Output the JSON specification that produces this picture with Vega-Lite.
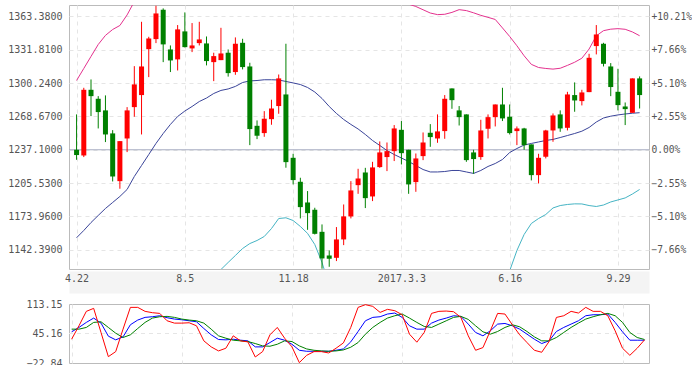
{
  "$schema": "https://vega.github.io/schema/vega-lite/v6.json",
  "padding": {"left": 7, "top": 4, "right": 0, "bottom": 0},
  "bounds": "flush",
  "spacing": 35,
  "config": {
    "view": {"stroke": "#bbbbbb", "strokeWidth": 1},
    "axis": {"labelFont": "DejaVu Sans Mono", "labelFontSize": 10, "labelColor": "#555555", "ticks": false, "tickSize": 0, "domain": false, "gridColor": "#e5e5e5", "gridDash": [4, 4], "labelFlush": false, "labelOverlap": false},
    "line": {"strokeWidth": 1}
  },
  "datasets": {
    "k": [
      {"d": "2016-04-22", "o": 1237.1, "h": 1270.6, "l": 1227.6, "c": 1232.1, "up": 1302.7, "mid": 1153.8, "lo": 1005, "K": 49.0, "D": 55.2, "J": 32.0},
      {"d": "2016-04-29", "o": 1231.7, "h": 1295.8, "l": 1230.2, "c": 1293.9, "up": 1314.1, "mid": 1160.7, "lo": 1007, "K": 59.1, "D": 55.2, "J": 62.9},
      {"d": "2016-05-06", "o": 1293.9, "h": 1303.7, "l": 1269.0, "c": 1287.9, "up": 1325.5, "mid": 1168.2, "lo": 1011, "K": 70.7, "D": 59.1, "J": 96.2},
      {"d": "2016-05-13", "o": 1285.4, "h": 1287.9, "l": 1257.3, "c": 1272.8, "up": 1336.8, "mid": 1174.9, "lo": 1013, "K": 80.7, "D": 70.7, "J": 103.1},
      {"d": "2016-05-20", "o": 1274.4, "h": 1288.6, "l": 1244.4, "c": 1251.6, "up": 1345.4, "mid": 1181.5, "lo": 1018, "K": 69.1, "D": 72.2, "J": 47.5},
      {"d": "2016-05-27", "o": 1252.6, "h": 1255.7, "l": 1207.1, "c": 1211.8, "up": 1351.0, "mid": 1187.2, "lo": 1023, "K": 39.0, "D": 59.1, "J": -8.2},
      {"d": "2016-06-03", "o": 1207.4, "h": 1245.3, "l": 1200.2, "c": 1245.3, "up": 1354.8, "mid": 1192.9, "lo": 1031, "K": 30.5, "D": 45.9, "J": 3.4},
      {"d": "2016-06-10", "o": 1247.8, "h": 1277.5, "l": 1234.9, "c": 1274.4, "up": 1364.8, "mid": 1199.5, "lo": 1034, "K": 37.4, "D": 35.9, "J": 55.2},
      {"d": "2016-06-17", "o": 1277.5, "h": 1316.3, "l": 1268.4, "c": 1299.0, "up": 1377.5, "mid": 1211.8, "lo": 1046, "K": 65.3, "D": 42.1, "J": 105.4},
      {"d": "2016-06-24", "o": 1288.9, "h": 1358.3, "l": 1251.6, "c": 1316.0, "up": 1390, "mid": 1222.2, "lo": 1054, "K": 76.1, "D": 56.7, "J": 105.4},
      {"d": "2016-07-01", "o": 1332.4, "h": 1344.1, "l": 1305.9, "c": 1342.5, "up": 1400, "mid": 1232.6, "lo": 1065, "K": 82.3, "D": 70.7, "J": 96.2},
      {"d": "2016-07-08", "o": 1341.9, "h": 1373.5, "l": 1338.1, "c": 1366.2, "up": 1410, "mid": 1243.1, "lo": 1076, "K": 83.8, "D": 80.7, "J": 93.1},
      {"d": "2016-07-15", "o": 1369.7, "h": 1371.0, "l": 1320.1, "c": 1336.9, "up": 1418, "mid": 1252.5, "lo": 1087, "K": 86.1, "D": 83.8, "J": 91.5},
      {"d": "2016-07-22", "o": 1332.1, "h": 1335.9, "l": 1310.7, "c": 1321.7, "up": 1425, "mid": 1261.1, "lo": 1097, "K": 81.5, "D": 84.6, "J": 74.5},
      {"d": "2016-07-29", "o": 1322.7, "h": 1355.2, "l": 1312.2, "c": 1351.1, "up": 1430, "mid": 1268.6, "lo": 1105, "K": 78.4, "D": 82.3, "J": 69.1},
      {"d": "2016-08-05", "o": 1349.2, "h": 1367.2, "l": 1334.0, "c": 1334.3, "up": 1433, "mid": 1273.8, "lo": 1110, "K": 76.8, "D": 78.4, "J": 69.1},
      {"d": "2016-08-12", "o": 1333.1, "h": 1357.1, "l": 1329.6, "c": 1335.9, "up": 1436, "mid": 1278.1, "lo": 1113, "K": 74.5, "D": 76.1, "J": 69.9},
      {"d": "2016-08-19", "o": 1338.1, "h": 1358.3, "l": 1335.9, "c": 1341.6, "up": 1440, "mid": 1282.8, "lo": 1115, "K": 72.2, "D": 74.5, "J": 62.9},
      {"d": "2016-08-26", "o": 1337.8, "h": 1344.4, "l": 1317.0, "c": 1321.1, "up": 1445, "mid": 1286.1, "lo": 1116, "K": 56.7, "D": 69.1, "J": 28.2},
      {"d": "2016-09-02", "o": 1320.1, "h": 1329.0, "l": 1302.1, "c": 1325.8, "up": 1452, "mid": 1290.4, "lo": 1117, "K": 42.1, "D": 55.2, "J": 14.3},
      {"d": "2016-09-09", "o": 1322.0, "h": 1352.6, "l": 1322.0, "c": 1328.3, "up": 1462, "mid": 1293.3, "lo": 1123.7, "K": 31.3, "D": 39.8, "J": 5.0},
      {"d": "2016-09-16", "o": 1329.0, "h": 1332.1, "l": 1306.4, "c": 1309.7, "up": 1458, "mid": 1294.7, "lo": 1130.4, "K": 30.5, "D": 34.3, "J": 11.2},
      {"d": "2016-09-23", "o": 1310.7, "h": 1343.5, "l": 1308.1, "c": 1337.5, "up": 1456, "mid": 1297.1, "lo": 1137.0, "K": 32.0, "D": 29.7, "J": 39.8},
      {"d": "2016-09-30", "o": 1338.4, "h": 1342.2, "l": 1313.2, "c": 1315.4, "up": 1458, "mid": 1300.8, "lo": 1143.6, "K": 29.7, "D": 28.2, "J": 28.2},
      {"d": "2016-10-07", "o": 1316.0, "h": 1319.5, "l": 1241.5, "c": 1256.7, "up": 1456, "mid": 1302.3, "lo": 1148.3, "K": 28.2, "D": 26.6, "J": 25.8},
      {"d": "2016-10-14", "o": 1259.8, "h": 1264.9, "l": 1247.2, "c": 1250.4, "up": 1454, "mid": 1302.7, "lo": 1151.2, "K": 14.3, "D": 22.0, "J": -9.0},
      {"d": "2016-10-21", "o": 1252.9, "h": 1273.7, "l": 1249.4, "c": 1266.5, "up": 1452, "mid": 1303.4, "lo": 1155.0, "K": 14.3, "D": 16.6, "J": 3.4},
      {"d": "2016-10-28", "o": 1266.1, "h": 1284.5, "l": 1260.8, "c": 1276.2, "up": 1444, "mid": 1303.4, "lo": 1162.5, "K": 24.3, "D": 15.8, "J": 42.1},
      {"d": "2016-11-04", "o": 1278.5, "h": 1308.4, "l": 1271.2, "c": 1304.7, "up": 1434, "mid": 1303.2, "lo": 1172.0, "K": 34.3, "D": 20.4, "J": 59.1},
      {"d": "2016-11-11", "o": 1289.5, "h": 1337.5, "l": 1220.1, "c": 1225.4, "up": 1431, "mid": 1301.8, "lo": 1172.7, "K": 29.7, "D": 28.2, "J": 34.3},
      {"d": "2016-11-18", "o": 1229.5, "h": 1233.3, "l": 1204.3, "c": 1208.4, "up": 1431, "mid": 1300.4, "lo": 1170.1, "K": 20.4, "D": 26.6, "J": 14.3},
      {"d": "2016-11-25", "o": 1206.8, "h": 1210.6, "l": 1172.1, "c": 1182.8, "up": 1433, "mid": 1298.9, "lo": 1164.5, "K": 6.5, "D": 16.6, "J": -22.0},
      {"d": "2016-12-02", "o": 1187.2, "h": 1198.0, "l": 1161.3, "c": 1177.1, "up": 1434, "mid": 1296.1, "lo": 1157.9, "K": 4.2, "D": 9.6, "J": -5.1},
      {"d": "2016-12-09", "o": 1180.3, "h": 1182.2, "l": 1156.9, "c": 1157.5, "up": 1435, "mid": 1291.8, "lo": 1147.4, "K": 4.2, "D": 6.5, "J": 3.4},
      {"d": "2016-12-16", "o": 1159.4, "h": 1166.4, "l": 1124.5, "c": 1134.2, "up": 1439, "mid": 1285.7, "lo": 1130.4, "K": 4.2, "D": 5.0, "J": 3.4},
      {"d": "2016-12-23", "o": 1137.0, "h": 1141.8, "l": 1126.3, "c": 1133.9, "up": 1445, "mid": 1278.1, "lo": 1108.6, "K": 4.2, "D": 4.2, "J": 0.3},
      {"d": "2016-12-30", "o": 1134.8, "h": 1163.9, "l": 1131.7, "c": 1152.2, "up": 1440, "mid": 1271.5, "lo": 1100, "K": 6.5, "D": 5.0, "J": 11.2},
      {"d": "2017-01-06", "o": 1152.2, "h": 1185.3, "l": 1146.8, "c": 1174.0, "up": 1430, "mid": 1265.8, "lo": 1098, "K": 9.6, "D": 7.3, "J": 23.5},
      {"d": "2017-01-13", "o": 1174.0, "h": 1207.4, "l": 1172.1, "c": 1198.6, "up": 1420, "mid": 1261.1, "lo": 1098, "K": 25.8, "D": 13.5, "J": 59.1},
      {"d": "2017-01-20", "o": 1203.6, "h": 1219.1, "l": 1195.4, "c": 1209.9, "up": 1410, "mid": 1256.8, "lo": 1100, "K": 49.8, "D": 24.3, "J": 105.4},
      {"d": "2017-01-27", "o": 1215.6, "h": 1220.0, "l": 1181.9, "c": 1191.3, "up": 1402, "mid": 1251.6, "lo": 1098, "K": 74.5, "D": 43.6, "J": 111.6},
      {"d": "2017-02-03", "o": 1192.9, "h": 1225.7, "l": 1188.5, "c": 1220.4, "up": 1395, "mid": 1245.9, "lo": 1094, "K": 82.3, "D": 59.1, "J": 107.7},
      {"d": "2017-02-10", "o": 1220.7, "h": 1245.0, "l": 1220.0, "c": 1234.6, "up": 1390, "mid": 1241.2, "lo": 1090, "K": 83.8, "D": 70.7, "J": 93.8},
      {"d": "2017-02-17", "o": 1230.2, "h": 1244.0, "l": 1216.9, "c": 1235.8, "up": 1386, "mid": 1236.4, "lo": 1086, "K": 90.0, "D": 80.7, "J": 100.8},
      {"d": "2017-02-24", "o": 1235.8, "h": 1260.5, "l": 1226.4, "c": 1257.3, "up": 1382, "mid": 1232.6, "lo": 1082, "K": 92.3, "D": 86.1, "J": 97.7},
      {"d": "2017-03-03", "o": 1256.0, "h": 1264.3, "l": 1223.2, "c": 1233.9, "up": 1378, "mid": 1229.3, "lo": 1079, "K": 82.3, "D": 90.0, "J": 88.4},
      {"d": "2017-03-10", "o": 1237.1, "h": 1237.1, "l": 1195.4, "c": 1204.3, "up": 1375.0, "mid": 1226.0, "lo": 1077, "K": 62.9, "D": 80.7, "J": 43.6},
      {"d": "2017-03-17", "o": 1206.5, "h": 1233.6, "l": 1197.3, "c": 1228.9, "up": 1372.8, "mid": 1222.2, "lo": 1072, "K": 55.2, "D": 70.7, "J": 25.1},
      {"d": "2017-03-24", "o": 1231.1, "h": 1253.5, "l": 1227.3, "c": 1244.0, "up": 1369.7, "mid": 1218.4, "lo": 1068, "K": 55.2, "D": 61.4, "J": 47.5},
      {"d": "2017-03-31", "o": 1253.2, "h": 1261.4, "l": 1239.9, "c": 1249.1, "up": 1366.6, "mid": 1216.1, "lo": 1066, "K": 69.1, "D": 59.1, "J": 91.5},
      {"d": "2017-04-07", "o": 1247.8, "h": 1270.6, "l": 1243.7, "c": 1254.5, "up": 1365.1, "mid": 1216.1, "lo": 1067, "K": 76.1, "D": 66.8, "J": 96.2},
      {"d": "2017-04-14", "o": 1254.8, "h": 1288.9, "l": 1247.5, "c": 1285.4, "up": 1365.4, "mid": 1216.5, "lo": 1068, "K": 80.7, "D": 74.5, "J": 96.9},
      {"d": "2017-04-21", "o": 1295.2, "h": 1295.2, "l": 1275.9, "c": 1284.1, "up": 1367.2, "mid": 1217.5, "lo": 1068, "K": 86.1, "D": 82.3, "J": 95.4},
      {"d": "2017-04-28", "o": 1274.4, "h": 1278.5, "l": 1260.1, "c": 1268.0, "up": 1369.8, "mid": 1217.5, "lo": 1065, "K": 84.6, "D": 84.6, "J": 82.2},
      {"d": "2017-05-05", "o": 1270.6, "h": 1270.6, "l": 1225.7, "c": 1227.3, "up": 1368.9, "mid": 1216.1, "lo": 1063, "K": 66.8, "D": 77.6, "J": 39.8},
      {"d": "2017-05-12", "o": 1234.6, "h": 1237.1, "l": 1214.4, "c": 1228.3, "up": 1366.8, "mid": 1214.7, "lo": 1063, "K": 47.5, "D": 62.9, "J": 6.5},
      {"d": "2017-05-19", "o": 1230.2, "h": 1265.5, "l": 1227.6, "c": 1255.4, "up": 1364.4, "mid": 1217.5, "lo": 1070, "K": 39.8, "D": 49.0, "J": 12.7},
      {"d": "2017-05-26", "o": 1257.0, "h": 1270.6, "l": 1247.8, "c": 1268.0, "up": 1362.5, "mid": 1221.3, "lo": 1080, "K": 51.3, "D": 43.6, "J": 51.3},
      {"d": "2017-06-02", "o": 1268.0, "h": 1280.0, "l": 1259.2, "c": 1280.0, "up": 1360.5, "mid": 1224.1, "lo": 1088, "K": 66.8, "D": 49.8, "J": 91.5},
      {"d": "2017-06-09", "o": 1280.0, "h": 1295.8, "l": 1264.3, "c": 1266.8, "up": 1352.5, "mid": 1227.9, "lo": 1103, "K": 68.3, "D": 59.1, "J": 90.0},
      {"d": "2017-06-16", "o": 1268.4, "h": 1280.0, "l": 1251.6, "c": 1252.9, "up": 1344.4, "mid": 1234.5, "lo": 1122.5, "K": 62.9, "D": 65.3, "J": 65.3},
      {"d": "2017-06-23", "o": 1254.8, "h": 1259.2, "l": 1241.5, "c": 1257.3, "up": 1335.6, "mid": 1238.3, "lo": 1141.7, "K": 55.2, "D": 60.6, "J": 42.1},
      {"d": "2017-06-30", "o": 1257.3, "h": 1257.9, "l": 1237.1, "c": 1241.5, "up": 1326.1, "mid": 1241.6, "lo": 1156.9, "K": 43.6, "D": 49.8, "J": 24.3},
      {"d": "2017-07-07", "o": 1242.2, "h": 1242.2, "l": 1208.1, "c": 1213.1, "up": 1318.0, "mid": 1243.1, "lo": 1167.3, "K": 32.0, "D": 37.4, "J": 6.5},
      {"d": "2017-07-14", "o": 1213.1, "h": 1233.3, "l": 1205.2, "c": 1229.5, "up": 1315.0, "mid": 1244.5, "lo": 1172.0, "K": 22.0, "D": 28.2, "J": 1.9},
      {"d": "2017-07-21", "o": 1230.5, "h": 1256.0, "l": 1228.9, "c": 1255.4, "up": 1314.1, "mid": 1245.9, "lo": 1175.8, "K": 28.2, "D": 28.2, "J": 26.6},
      {"d": "2017-07-28", "o": 1255.4, "h": 1271.5, "l": 1244.7, "c": 1269.6, "up": 1313.5, "mid": 1246.9, "lo": 1182.0, "K": 49.8, "D": 35.9, "J": 82.2},
      {"d": "2017-08-04", "o": 1270.6, "h": 1274.4, "l": 1254.1, "c": 1257.3, "up": 1314.3, "mid": 1248.7, "lo": 1184.3, "K": 59.1, "D": 47.5, "J": 86.1},
      {"d": "2017-08-11", "o": 1257.9, "h": 1292.0, "l": 1255.4, "c": 1289.5, "up": 1317.0, "mid": 1250.6, "lo": 1185.3, "K": 66.8, "D": 59.1, "J": 96.2},
      {"d": "2017-08-18", "o": 1288.9, "h": 1300.9, "l": 1273.1, "c": 1283.8, "up": 1320.0, "mid": 1252.5, "lo": 1185.9, "K": 74.5, "D": 69.1, "J": 92.3},
      {"d": "2017-08-25", "o": 1283.2, "h": 1293.9, "l": 1279.1, "c": 1291.4, "up": 1323.8, "mid": 1254.7, "lo": 1185.8, "K": 86.1, "D": 78.4, "J": 105.4},
      {"d": "2017-09-01", "o": 1291.7, "h": 1328.0, "l": 1291.7, "c": 1324.2, "up": 1332.5, "mid": 1258.2, "lo": 1184.3, "K": 88.4, "D": 83.8, "J": 96.2},
      {"d": "2017-09-08", "o": 1335.3, "h": 1355.2, "l": 1327.4, "c": 1346.3, "up": 1345.0, "mid": 1263.4, "lo": 1183.4, "K": 88.4, "D": 88.4, "J": 96.2},
      {"d": "2017-09-15", "o": 1337.5, "h": 1338.4, "l": 1316.0, "c": 1318.5, "up": 1349.9, "mid": 1267.2, "lo": 1184.8, "K": 90.0, "D": 91.5, "J": 86.1},
      {"d": "2017-09-22", "o": 1316.0, "h": 1319.2, "l": 1287.9, "c": 1296.5, "up": 1351.3, "mid": 1268.9, "lo": 1187.7, "K": 70.7, "D": 86.1, "J": 51.3},
      {"d": "2017-09-29", "o": 1292.0, "h": 1313.8, "l": 1274.4, "c": 1279.4, "up": 1351.8, "mid": 1270.1, "lo": 1189.6, "K": 49.0, "D": 70.7, "J": 11.2},
      {"d": "2017-10-06", "o": 1278.1, "h": 1281.9, "l": 1260.5, "c": 1275.6, "up": 1351.2, "mid": 1271.0, "lo": 1191.5, "K": 29.7, "D": 47.5, "J": -5.1},
      {"d": "2017-10-13", "o": 1272.1, "h": 1304.7, "l": 1272.1, "c": 1304.7, "up": 1348.7, "mid": 1271.7, "lo": 1195.2, "K": 29.7, "D": 35.9, "J": 11.2},
      {"d": "2017-10-20", "o": 1304.7, "h": 1306.6, "l": 1276.2, "c": 1288.9, "up": 1345.1, "mid": 1272.2, "lo": 1199.5, "K": 29.7, "D": 31.3, "J": 30.5}
    ]
  },
  "vconcat": [
    {
      "width": 580,
      "height": 264,
      "resolve": {"axis": {"y": "independent", "x": "independent"}},
      "layer": [
        {
          "data": {"values": [{"v": 1237.1}]},
          "mark": {"type": "rule", "color": "#a6abc0", "strokeWidth": 1},
          "encoding": {
            "y": {"field": "v", "type": "quantitative", "scale": {"domain": [1124.2, 1374.2], "nice": false, "zero": false},
              "axis": {"orient": "right", "title": null, "grid": false, "values": [1142.39, 1173.96, 1205.53, 1237.1, 1268.67, 1300.24, 1331.81, 1363.38], "labelExpr": "(datum.value > 1237.1 ? '+' : (datum.value == 1237.1 ? '\u00a0' : '')) + format((datum.value / 1237.1 - 1) * 100, '.2f') + '%'", "labelPadding": 2, "labelFontSize": 9.6, "labelOverlap": false}}
          }
        },
        {
          "data": {"name": "k"},
          "mark": {"type": "line", "color": "#e4318e", "clip": true},
          "encoding": {
            "x": {"field": "d", "type": "temporal", "scale": {"domain": [{"year": 2016, "month": 4, "date": 19, "hours": 12, "utc": true}, {"year": 2017, "month": 10, "date": 24, "hours": 6, "utc": true}]},
              "axis": {"orient": "bottom", "title": null, "grid": true, "labels": false, "values": [{"year": 2016, "month": 4, "date": 22, "utc": true}, {"year": 2016, "month": 8, "date": 5, "utc": true}, {"year": 2016, "month": 11, "date": 18, "utc": true}, {"year": 2017, "month": 3, "date": 3, "utc": true}, {"year": 2017, "month": 6, "date": 16, "utc": true}, {"year": 2017, "month": 9, "date": 29, "utc": true}],
                "domain": true, "domainColor": "#f4f4f4", "domainWidth": 22, "domainCap": "butt", "offset": 13}},
            "y": {"field": "up", "type": "quantitative", "scale": {"domain": [1124.2, 1374.2], "nice": false, "zero": false}, "axis": null}
          }
        },
        {
          "data": {"name": "k"},
          "mark": {"type": "line", "color": "#3a4499", "clip": true},
          "encoding": {
            "x": {"field": "d", "type": "temporal", "scale": {"domain": [{"year": 2016, "month": 4, "date": 19, "hours": 12, "utc": true}, {"year": 2017, "month": 10, "date": 24, "hours": 6, "utc": true}]},
              "axis": {"orient": "bottom", "title": null, "grid": false, "domain": false, "values": [{"year": 2016, "month": 4, "date": 22, "utc": true}, {"year": 2016, "month": 8, "date": 5, "utc": true}, {"year": 2016, "month": 11, "date": 18, "utc": true}, {"year": 2017, "month": 3, "date": 3, "utc": true}, {"year": 2017, "month": 6, "date": 16, "utc": true}, {"year": 2017, "month": 9, "date": 29, "utc": true}],
                "labelExpr": "utcFormat(datum.value, '%Y-%m-%d') == '2017-03-03' ? '2017.3.3' : utcFormat(datum.value, '%-m.%-d')",
                "offset": 0, "tickSize": 0, "labelBaseline": "middle", "labelPadding": 9, "labelOverlap": false}},
            "y": {"field": "mid", "type": "quantitative", "scale": {"domain": [1124.2, 1374.2], "nice": false, "zero": false},
              "axis": {"orient": "left", "title": null, "grid": true, "values": [1142.39, 1173.96, 1205.53, 1237.1, 1268.67, 1300.24, 1331.81, 1363.38], "format": ".4f", "labelPadding": 7, "labelOverlap": false}}
          }
        },
        {
          "data": {"name": "k"},
          "mark": {"type": "line", "color": "#45b4c4", "clip": true},
          "encoding": {
            "x": {"field": "d", "type": "temporal", "scale": {"domain": [{"year": 2016, "month": 4, "date": 19, "hours": 12, "utc": true}, {"year": 2017, "month": 10, "date": 24, "hours": 6, "utc": true}]}, "axis": null},
            "y": {"field": "lo", "type": "quantitative", "scale": {"domain": [1124.2, 1374.2], "nice": false, "zero": false}, "axis": null}
          }
        },
        {
          "data": {"name": "k"},
          "mark": {"type": "rule", "strokeWidth": 1, "clip": true},
          "encoding": {
            "x": {"field": "d", "type": "temporal", "scale": {"domain": [{"year": 2016, "month": 4, "date": 19, "hours": 12, "utc": true}, {"year": 2017, "month": 10, "date": 24, "hours": 6, "utc": true}]}, "axis": null},
            "y": {"field": "l", "type": "quantitative", "scale": {"domain": [1124.2, 1374.2], "nice": false, "zero": false}, "axis": null},
            "y2": {"field": "h"},
            "color": {"condition": {"test": "datum.c >= datum.o", "value": "#ff0000"}, "value": "#008000"}
          }
        },
        {
          "data": {"name": "k"},
          "mark": {"type": "bar", "width": 5, "clip": true},
          "encoding": {
            "x": {"field": "d", "type": "temporal", "scale": {"domain": [{"year": 2016, "month": 4, "date": 19, "hours": 12, "utc": true}, {"year": 2017, "month": 10, "date": 24, "hours": 6, "utc": true}]}, "axis": null},
            "y": {"field": "o", "type": "quantitative", "scale": {"domain": [1124.2, 1374.2], "nice": false, "zero": false}, "axis": null},
            "y2": {"field": "c"},
            "color": {"condition": {"test": "datum.c >= datum.o", "value": "#ff0000"}, "value": "#008000"}
          }
        }
      ]
    },
    {
      "width": 580,
      "height": 59,
      "layer": [
        {
          "data": {"values": [{"v": 45.16}]},
          "mark": {"type": "rule", "color": "#e5e5e5", "strokeDash": [4, 4]},
          "encoding": {
            "y": {"field": "v", "type": "quantitative", "scale": {"domain": [-22.84, 113.15], "nice": false, "zero": false},
              "axis": {"title": null, "grid": false, "values": [-22.84, 45.16, 113.15], "tickCount": 10, "format": ".2f", "labelPadding": 7, "labelOverlap": false, "labelBound": false}}
          }
        },
        {
          "data": {"name": "k"},
          "mark": {"type": "line", "color": "#0000ff", "clip": true},
          "encoding": {
            "x": {"field": "d", "type": "temporal", "scale": {"domain": [{"year": 2016, "month": 4, "date": 19, "hours": 12, "utc": true}, {"year": 2017, "month": 10, "date": 24, "hours": 6, "utc": true}]},
              "axis": {"title": null, "grid": true, "labels": false, "tickCount": 20, "values": [{"year": 2016, "month": 4, "date": 22, "utc": true}, {"year": 2016, "month": 8, "date": 5, "utc": true}, {"year": 2016, "month": 11, "date": 18, "utc": true}, {"year": 2017, "month": 3, "date": 3, "utc": true}, {"year": 2017, "month": 6, "date": 16, "utc": true}, {"year": 2017, "month": 9, "date": 29, "utc": true}]}},
            "y": {"field": "K", "type": "quantitative", "scale": {"domain": [-22.84, 113.15], "nice": false, "zero": false}, "axis": {"title": null}}
          }
        },
        {
          "data": {"name": "k"},
          "mark": {"type": "line", "color": "#008000", "clip": true},
          "encoding": {
            "x": {"field": "d", "type": "temporal", "scale": {"domain": [{"year": 2016, "month": 4, "date": 19, "hours": 12, "utc": true}, {"year": 2017, "month": 10, "date": 24, "hours": 6, "utc": true}]}, "axis": {"title": null}},
            "y": {"field": "D", "type": "quantitative", "scale": {"domain": [-22.84, 113.15], "nice": false, "zero": false}, "axis": {"title": null}}
          }
        },
        {
          "data": {"name": "k"},
          "mark": {"type": "line", "color": "#ff0000", "clip": true},
          "encoding": {
            "x": {"field": "d", "type": "temporal", "scale": {"domain": [{"year": 2016, "month": 4, "date": 19, "hours": 12, "utc": true}, {"year": 2017, "month": 10, "date": 24, "hours": 6, "utc": true}]}, "axis": {"title": null}},
            "y": {"field": "J", "type": "quantitative", "scale": {"domain": [-22.84, 113.15], "nice": false, "zero": false}, "axis": {"title": null}}
          }
        }
      ]
    }
  ]
}
